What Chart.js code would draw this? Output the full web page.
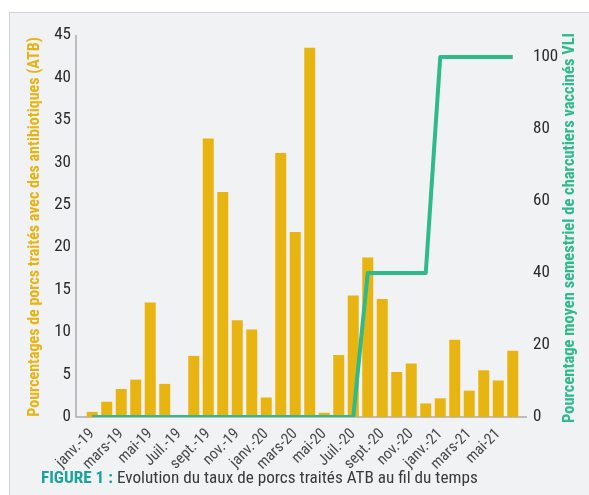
<!DOCTYPE html>
<html lang="fr">
<head>
<meta charset="utf-8">
<script src="https://cdn.jsdelivr.net/npm/chart.js@4/dist/chart.umd.min.js"></script>
<style>
  html, body { margin: 0; padding: 0; background: #ffffff; }
  body { width: 589px; height: 495px; position: relative; overflow: hidden; }
  #panel {
    position: absolute; left: 9px; top: 12px; width: 600px; height: 500px;
    background: #f1f2f4; border-left: 1px solid #d3d5d8; border-top: 1px solid #d3d5d8;
  }
  #wrap { position: absolute; left: 0; top: 0; width: 589px; height: 495px; }
  #caption {
    position: absolute; left: 41px; top: 466px; white-space: nowrap;
    font-family: "Liberation Sans Narrow", "Arial Narrow", "Roboto Condensed", sans-serif;
    font-size: 17.2px; color: #3a3a3a; line-height: 22px;
  }
  #caption b { color: #19a39c; }
</style>
</head>
<body>
<div id="panel"></div>
<div id="wrap"><canvas id="c" width="589" height="495"></canvas></div>
<div id="caption"><b>FIGURE 1 :</b> Evolution du taux de porcs traités ATB au fil du temps</div>
<script>
// Months, Jan 2019 – Jun 2021
const months = [
  'janv.-19', 'févr.-19', 'mars-19', 'avr.-19', 'mai-19', 'juin-19',
  'Juil.-19', 'août-19', 'sept.-19', 'oct.-19', 'nov.-19', 'déc.-19',
  'janv.-20', 'févr.-20', 'mars-20', 'avr.-20', 'mai-20', 'juin-20',
  'Juil.-20', 'août-20', 'sept.-20', 'oct.-20', 'nov.-20', 'déc.-20',
  'janv.-21', 'févr.-21', 'mars-21', 'avr.-21', 'mai-21', 'juin-21'
];
// % of pigs treated with antibiotics (left axis)
const atbPercent = [
  0.6, 1.8, 3.3, 4.4, 13.5, 3.9,
  0, 7.2, 32.8, 26.5, 11.4, 10.3,
  2.3, 31.1, 21.8, 43.5, 0.5, 7.3,
  14.3, 18.8, 13.9, 5.3, 6.3, 1.6,
  2.2, 9.1, 3.1, 5.5, 4.3, 7.8
];
// Semester average % of fattening pigs vaccinated against ileitis (right axis)
const vliPercent = [
  0, 0, 0, 0, 0, 0,
  0, 0, 0, 0, 0, 0,
  0, 0, 0, 0, 0, 0,
  0, 40, 40, 40, 40, 40,
  100, 100, 100, 100, 100, 100
];
const leftTicks = [0, 5, 10, 15, 20, 25, 30, 35, 40, 45];
const rightTicks = [0, 20, 40, 60, 80, 100];

const leftTitle = 'Pourcentages de porcs traités avec des antibiotiques (ATB)';
const rightTitle = 'Pourcentage moyen semestriel de charcutiers vaccinés VLI';

const FONT = '"Liberation Sans Narrow", "Arial Narrow", "Roboto Condensed", sans-serif';
const BAR = '#e8b412';
const GREEN = '#2ebb89';

// Axis lines sit a little outside the plotting band
const axisLines = {
  id: 'axisLines',
  beforeDatasetsDraw(chart) {
    const { ctx, chartArea } = chart;
    const y0 = chart.scales.y.getPixelForValue(0);
    const xl = chartArea.left - 9;
    ctx.save();
    ctx.strokeStyle = '#a9abae';
    ctx.lineWidth = 1.5;
    ctx.beginPath();
    ctx.moveTo(xl, chartArea.top);
    ctx.lineTo(xl, y0);
    ctx.lineTo(chartArea.right + 7, y0);
    ctx.stroke();
    ctx.restore();
  }
};

// Vertical titles, both reading bottom-to-top
const axisTitles = {
  id: 'axisTitles',
  afterDraw(chart) {
    const { ctx, chartArea } = chart;
    const cy = (chartArea.top + chartArea.bottom) / 2;
    const items = [
      [leftTitle, chartArea.left - 50, cy + 1, BAR, 16],
      [rightTitle, chartArea.right + 50, cy + 2, GREEN, 16.5]
    ];
    ctx.save();
    ctx.textAlign = 'center';
    ctx.textBaseline = 'middle';
    for (const [text, x, y, color, size] of items) {
      ctx.save();
      ctx.font = 'bold ' + size + 'px ' + FONT;
      ctx.translate(x, y);
      ctx.rotate(-Math.PI / 2);
      ctx.fillStyle = color;
      ctx.fillText(text, 0, 0);
      ctx.restore();
    }
    ctx.restore();
  }
};

new Chart(document.getElementById('c'), {
  data: {
    labels: months,
    datasets: [
      {
        type: 'line',
        data: vliPercent,
        yAxisID: 'y1',
        borderColor: GREEN,
        borderWidth: 4,
        pointRadius: 0,
        tension: 0,
        borderJoinStyle: 'round',
        order: 0
      },
      {
        type: 'bar',
        data: atbPercent,
        yAxisID: 'y',
        backgroundColor: BAR,
        barPercentage: 0.76,
        categoryPercentage: 1,
        order: 1
      }
    ]
  },
  options: {
    responsive: false,
    animation: false,
    events: [],
    layout: { padding: { top: 35, left: 0, right: 0, bottom: 0 } },
    plugins: { legend: { display: false }, tooltip: { enabled: false } },
    scales: {
      x: {
        grid: { display: false, drawTicks: false },
        border: { display: false },
        ticks: {
          autoSkip: false,
          minRotation: 45,
          maxRotation: 45,
          padding: 8,
          color: '#4a4a4a',
          font: { family: FONT, size: 15.5 },
          callback: (v, i) => (i % 2 === 0 ? months[i] : '')
        },
        afterFit: s => { s.height = 78; }
      },
      y: {
        position: 'left',
        min: 0,
        max: 45,
        grid: { display: false, drawTicks: false },
        border: { display: false },
        afterBuildTicks: s => { s.ticks = leftTicks.map(v => ({ value: v })); },
        ticks: {
          padding: 14,
          color: '#2b2b2b',
          font: { family: FONT, size: 17 }
        },
        afterFit: s => { s.width = 85; }
      },
      y1: {
        position: 'right',
        min: 0,
        max: 106.1,
        grid: { display: false, drawTicks: false },
        border: { display: false },
        afterBuildTicks: s => { s.ticks = rightTicks.map(v => ({ value: v })); },
        ticks: {
          padding: 13,
          color: '#2b2b2b',
          font: { family: FONT, size: 17 }
        },
        afterFit: s => { s.width = 69; }
      }
    }
  },
  plugins: [axisLines, axisTitles]
});
</script>
</body>
</html>
